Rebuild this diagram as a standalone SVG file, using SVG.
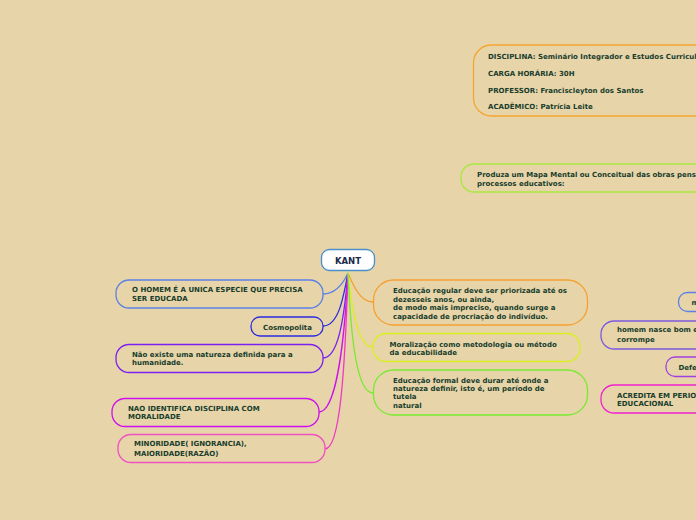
<svg xmlns="http://www.w3.org/2000/svg" width="696" height="520" viewBox="0 0 696 520">
<style>
.n{fill:none;stroke-width:1.3}
.t{font-family:"DejaVu Sans",Verdana,sans-serif;font-weight:bold;font-size:7px;fill:#173d2c}
.c{fill:none;stroke-width:1.3}
</style>
<rect width="696" height="520" fill="#E8D4A9"/>
<g id="connectors">
<path class="c" stroke="#5b80e6" d="M348,273 C343,284 336,294 323,294"/>
<path class="c" stroke="#2b2bde" d="M348,273 C343,300 338,326 323,326"/>
<path class="c" stroke="#7a20f0" d="M348,273 C344,320 338,358 323,358"/>
<path class="c" stroke="#cc10ee" d="M348,273 C344,350 335,412 319,412"/>
<path class="c" stroke="#f038c8" d="M348,273 C345,370 340,449 325,449"/>
<path class="c" stroke="#f5a030" d="M348,273 C353,285 360,302 373,302"/>
<path class="c" stroke="#d8f020" d="M348,273 C352,310 358,347 373,347"/>
<path class="c" stroke="#78ea30" d="M348,273 C351,340 357,393 373,393"/>
</g>
<g id="disciplina">
<rect class="n" stroke="#f5a530" x="473.5" y="45" width="260" height="71" rx="18"/>
<text class="t" x="488" y="58.5">DISCIPLINA: Seminário Integrador e Estudos Curriculares</text>
<text class="t" x="488" y="75.5">CARGA HORÁRIA: 30H</text>
<text class="t" x="488" y="92.5">PROFESSOR: Franciscleyton dos Santos</text>
<text class="t" x="488" y="109">ACADÊMICO: Patrícia Leite</text>
</g>
<g id="produza">
<rect class="n" stroke="#a8e840" x="461" y="164" width="300" height="28" rx="13"/>
<text class="t" x="477" y="177">Produza um Mapa Mental ou Conceitual das obras pensadores</text>
<text class="t" x="477" y="186">processos educativos:</text>
</g>
<g id="kant">
<rect x="321.5" y="249.5" width="53" height="21" rx="8" fill="#ffffff" stroke="#4a90c8" stroke-width="1.3"/>
<text x="348" y="264" text-anchor="middle" style="font-family:'DejaVu Sans',Verdana,sans-serif;font-weight:bold;font-size:8.5px;fill:#1a2a4a">KANT</text>
</g>
<g id="homem-educada">
<rect class="n" stroke="#5b80e6" x="116" y="280" width="207" height="28" rx="13"/>
<text class="t" x="132" y="292">O HOMEM É A UNICA ESPECIE QUE PRECISA</text>
<text class="t" x="132" y="301">SER EDUCADA</text>
</g>
<g id="cosmopolita">
<rect class="n" stroke="#2b2bde" x="251" y="317" width="72" height="19" rx="9"/>
<text class="t" x="263" y="329.5">Cosmopolita</text>
</g>
<g id="natureza">
<rect class="n" stroke="#7a20f0" x="116" y="344.5" width="207" height="28" rx="13"/>
<text class="t" x="132" y="357">Não existe uma natureza definida para a</text>
<text class="t" x="132" y="365">humanidade.</text>
</g>
<g id="disciplina-moralidade">
<rect class="n" stroke="#cc10ee" x="112" y="398.5" width="207" height="28" rx="13"/>
<text class="t" x="128" y="411">NAO IDENTIFICA DISCIPLINA COM</text>
<text class="t" x="128" y="419">MORALIDADE</text>
</g>
<g id="minoridade">
<rect class="n" stroke="#f050c0" x="118" y="434.5" width="207" height="28" rx="13"/>
<text class="t" x="134" y="446">MINORIDADE( IGNORANCIA),</text>
<text class="t" x="134" y="455.5">MAIORIDADE(RAZÃO)</text>
</g>
<g id="educacao-regular">
<rect class="n" stroke="#f5a030" x="373.5" y="280" width="214" height="45" rx="20"/>
<text class="t" x="393" y="292.5">Educação regular deve ser priorizada até os</text>
<text class="t" x="393" y="301.5">dezesseis anos, ou ainda,</text>
<text class="t" x="393" y="310">de modo mais impreciso, quando surge a</text>
<text class="t" x="393" y="318.5">capacidade de procriação do indivíduo.</text>
</g>
<g id="moralizacao">
<rect class="n" stroke="#d8f020" x="373" y="333.5" width="207" height="28" rx="13"/>
<text class="t" x="389.5" y="346.5">Moralização como metodologia ou método</text>
<text class="t" x="389.5" y="354.5">da educabilidade</text>
</g>
<g id="educacao-formal">
<rect class="n" stroke="#78ea30" x="373.5" y="370" width="214" height="45" rx="20"/>
<text class="t" x="393" y="382.5">Educação formal deve durar até onde a</text>
<text class="t" x="393" y="391">natureza definir, isto é, um período de</text>
<text class="t" x="393" y="399">tutela</text>
<text class="t" x="393" y="407.5">natural</text>
</g>
<g id="m-node">
<rect class="n" stroke="#5b80e6" x="678.5" y="292.5" width="60" height="19" rx="9"/>
<text class="t" x="691.5" y="305">m</text>
</g>
<g id="homem-nasce">
<rect class="n" stroke="#7b5ae0" x="601" y="321" width="150" height="28" rx="13"/>
<text class="t" x="617" y="332">homem nasce bom e a sociedade o</text>
<text class="t" x="617" y="342">corrompe</text>
</g>
<g id="defende">
<rect class="n" stroke="#a040e0" x="666" y="357" width="80" height="19.5" rx="9"/>
<text class="t" x="678.5" y="370">Defende</text>
</g>
<g id="acredita">
<rect class="n" stroke="#f020d0" x="601" y="385" width="150" height="28" rx="13"/>
<text class="t" x="617" y="397.5">ACREDITA EM PERIODO</text>
<text class="t" x="617" y="406">EDUCACIONAL</text>
</g>
</svg>
